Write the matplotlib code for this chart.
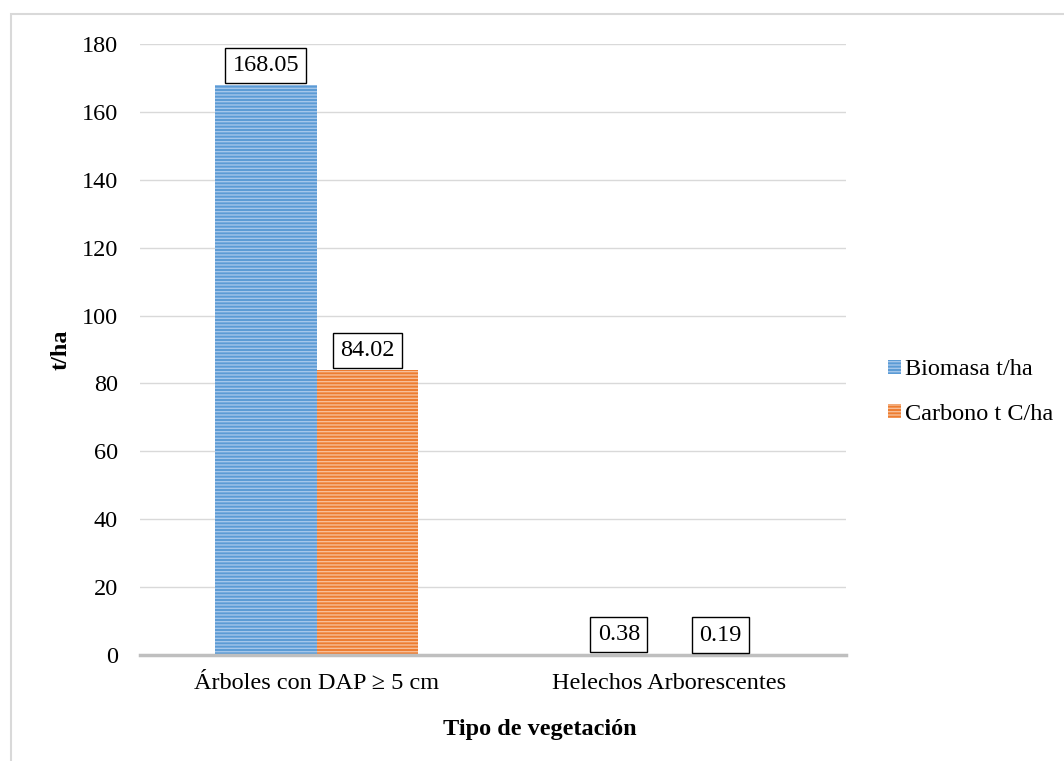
import matplotlib
matplotlib.use("Agg")
import matplotlib.pyplot as plt
import numpy as np
from matplotlib.patches import Rectangle

categories = ["Árboles con DAP ≥ 5 cm", "Helechos Arborescentes"]
series_names = ["Biomasa t/ha", "Carbono t C/ha"]
biomasa = [168.05, 0.38]
carbono = [84.02, 0.19]
label_biomasa = ["168.05", "0.38"]
label_carbono = ["84.02", "0.19"]
yticks = [0, 20, 40, 60, 80, 100, 120, 140, 160, 180]

plt.rcParams['font.family'] = ['Liberation Serif', 'DejaVu Serif']
plt.rcParams['hatch.linewidth'] = 1.0

FS = 17.5
W, H = 1064, 761
fig = plt.figure(figsize=(W / 100, H / 100), dpi=100)
ax = fig.add_axes([140 / W, 1 - 655 / H, (846 - 140) / W, (655 - 44) / H])

x = np.arange(len(categories))
bw = 0.2875
fills = ["#5B9BD5", "#ED7D31"]
stripes = ["#A4C6EA", "#F7BE98"]
series = [biomasa, carbono]
labels = [label_biomasa, label_carbono]
offsets = [-bw / 2, bw / 2]

for i in range(2):
    ax.bar(x + offsets[i], series[i], width=bw, color=fills[i], edgecolor=stripes[i],
           linewidth=0, hatch="-----", label=series_names[i], zorder=3)
    for xi, v, t in zip(x + offsets[i], series[i], labels[i]):
        ax.annotate(t, (xi, v), xytext=(0, 6.3), textcoords="offset points",
                    ha="center", va="bottom", fontsize=FS, zorder=5,
                    bbox=dict(boxstyle="square,pad=0.3", fc="white", ec="black", lw=1.0))

ax.set_xlim(-0.5, 1.5)
ax.set_ylim(0, 180)
ax.set_yticks(yticks)
ax.set_yticklabels([str(v) for v in yticks], fontsize=FS)
ax.set_xticks(x)
ax.set_xticklabels(categories, fontsize=FS)
ax.tick_params(axis="y", length=0, pad=16)
ax.tick_params(axis="x", length=0, pad=13)
ax.grid(axis="y", color="#D9D9D9", lw=1.0, zorder=0)
ax.set_axisbelow(True)
for s in ["top", "right", "left"]:
    ax.spines[s].set_visible(False)
ax.spines["bottom"].set_color("#BFBFBF")
ax.spines["bottom"].set_linewidth(2.5)
ax.spines["bottom"].set_zorder(4)

ax.set_ylabel("t/ha", fontsize=FS, fontweight="bold")
ax.yaxis.set_label_coords((72 - 140) / (846 - 140), 0.5)
fig.text(540 / W, 1 - 730 / H, "Tipo de vegetación", fontsize=FS, fontweight="bold",
         ha="center", va="center")

leg = fig.legend(loc="center left", bbox_to_anchor=(866 / W, 1 - 392 / H), frameon=False,
                 fontsize=FS, handlelength=0.55, handleheight=0.55, handletextpad=0.15,
                 labelspacing=0.95)

fig.patches.append(Rectangle((11 / W, -0.05), 1.2, 1 - 14 / H + 0.05, transform=fig.transFigure,
                             fill=False, ec="#D9D9D9", lw=1.5, zorder=-1))

fig.savefig("out.png", dpi=100)
